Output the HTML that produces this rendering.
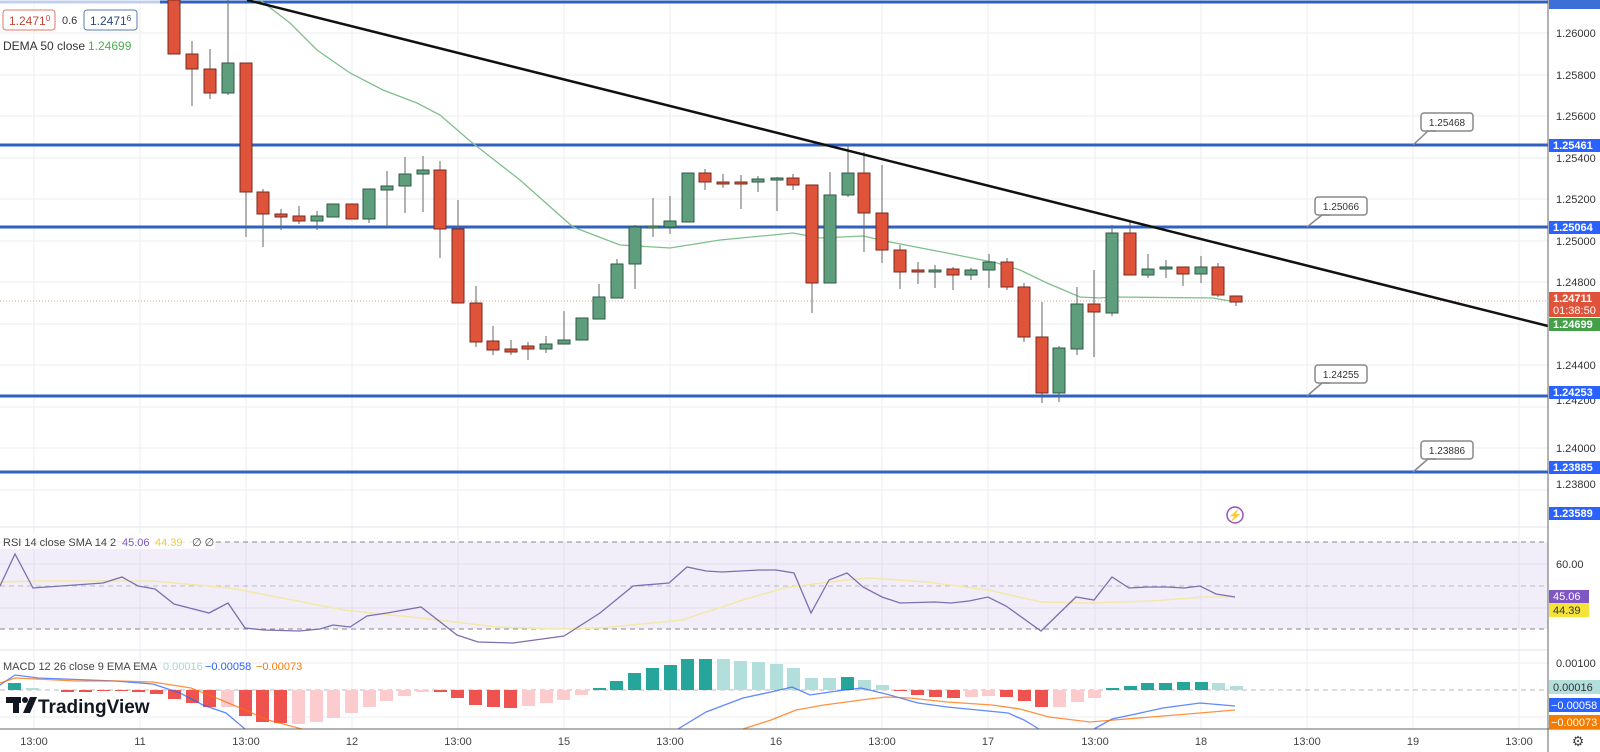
<!DOCTYPE html>
<html><head><meta charset="utf-8"><style>
html,body{margin:0;padding:0;background:#fff;}
svg{display:block;font-family:"Liberation Sans",sans-serif;}
</style></head><body>
<svg width="1600" height="752" viewBox="0 0 1600 752" xmlns="http://www.w3.org/2000/svg">
<rect width="1600" height="752" fill="#fff"/>
<!-- grid -->
<g stroke="#eceef2" stroke-width="1">
<line x1="34" y1="0" x2="34" y2="729"/><line x1="140" y1="0" x2="140" y2="729"/><line x1="246" y1="0" x2="246" y2="729"/><line x1="352" y1="0" x2="352" y2="729"/><line x1="458" y1="0" x2="458" y2="729"/><line x1="564" y1="0" x2="564" y2="729"/><line x1="670" y1="0" x2="670" y2="729"/><line x1="776" y1="0" x2="776" y2="729"/><line x1="882" y1="0" x2="882" y2="729"/><line x1="988" y1="0" x2="988" y2="729"/><line x1="1095" y1="0" x2="1095" y2="729"/><line x1="1201" y1="0" x2="1201" y2="729"/><line x1="1307" y1="0" x2="1307" y2="729"/><line x1="1413" y1="0" x2="1413" y2="729"/><line x1="1519" y1="0" x2="1519" y2="729"/>
<line x1="0" y1="33" x2="1548" y2="33"/><line x1="0" y1="75" x2="1548" y2="75"/><line x1="0" y1="116" x2="1548" y2="116"/><line x1="0" y1="158" x2="1548" y2="158"/><line x1="0" y1="199" x2="1548" y2="199"/><line x1="0" y1="241" x2="1548" y2="241"/><line x1="0" y1="282" x2="1548" y2="282"/><line x1="0" y1="324" x2="1548" y2="324"/><line x1="0" y1="365" x2="1548" y2="365"/><line x1="0" y1="407" x2="1548" y2="407"/><line x1="0" y1="448" x2="1548" y2="448"/><line x1="0" y1="490" x2="1548" y2="490"/>
<line x1="0" y1="564" x2="1548" y2="564"/><line x1="0" y1="608" x2="1548" y2="608"/><line x1="0" y1="663" x2="1548" y2="663"/><line x1="0" y1="717" x2="1548" y2="717"/>
</g>
<line x1="0" y1="527" x2="1548" y2="527" stroke="#e0e3eb"/>
<line x1="0" y1="650" x2="1548" y2="650" stroke="#e0e3eb"/>
<!-- RSI panel -->
<rect x="0" y="542" width="1548" height="87" fill="#7e57c2" fill-opacity="0.1"/>
<g stroke="#888" stroke-dasharray="5,4" stroke-width="1">
<line x1="0" y1="542" x2="1548" y2="542"/><line x1="0" y1="586" x2="1548" y2="586" stroke-opacity="0.5"/><line x1="0" y1="629" x2="1548" y2="629"/>
<line x1="0" y1="690" x2="1548" y2="690" stroke-opacity="0.6"/>
</g>
<polyline fill="none" stroke="#f2e8a8" stroke-width="1.5" points="0,582 38,581 153,581 230,588 344,610 421,618 497,627 555,629 600,628 682,620 743,600 784,588 837,581 869,578 927,582 988,590 1041,602 1090,603 1151,601 1204,597 1235,597"/>
<polyline fill="none" stroke="#7b6fb0" stroke-width="1.3" points="0,586 15,554 33,588 103,583 122,577 138,586 155,589 174,604 209,613 228,603 245,628 264,630 299,631 320,629 333,625 350,627 367,616 387,613 421,607 457,635 478,642 513,643 564,636 600,613 633,586 669,583 687,567 706,571 722,572 759,570 776,570 794,573 811,613 829,580 847,573 863,587 882,597 900,603 935,602 951,603 969,601 988,597 1006,606 1041,631 1076,597 1094,600 1112,577 1129,588 1147,587 1167,587 1184,588 1200,586 1216,594 1235,597"/>
<!-- MACD histogram -->
<g>
<rect x="8" y="683" width="13" height="7" fill="#26a69a"/>
<rect x="26" y="688" width="13" height="2" fill="#b2dfdb"/>
<rect x="61" y="690" width="13" height="2" fill="#ef5350"/><rect x="79" y="690" width="13" height="2" fill="#ef5350"/><rect x="97" y="690" width="13" height="1" fill="#ef5350"/><rect x="115" y="690" width="13" height="1" fill="#ef5350"/><rect x="132" y="690" width="13" height="2" fill="#ef5350"/><rect x="150" y="690" width="13" height="4" fill="#ef5350"/>
<rect x="168" y="690" width="13" height="9" fill="#ef5350"/><rect x="186" y="690" width="13" height="13" fill="#ef5350"/><rect x="203" y="690" width="13" height="17" fill="#ef5350"/><rect x="221" y="690" width="13" height="17" fill="#fccbcd"/>
<rect x="239" y="690" width="13" height="26" fill="#ef5350"/><rect x="256" y="690" width="13" height="32" fill="#ef5350"/><rect x="274" y="690" width="13" height="33" fill="#ef5350"/>
<rect x="292" y="690" width="13" height="34" fill="#fccbcd"/><rect x="310" y="690" width="13" height="32" fill="#fccbcd"/><rect x="327" y="690" width="13" height="28" fill="#fccbcd"/><rect x="345" y="690" width="13" height="23" fill="#fccbcd"/><rect x="363" y="690" width="13" height="17" fill="#fccbcd"/><rect x="380" y="690" width="13" height="11" fill="#fccbcd"/><rect x="398" y="690" width="13" height="6" fill="#fccbcd"/><rect x="416" y="690" width="13" height="2" fill="#fccbcd"/>
<rect x="434" y="690" width="13" height="2" fill="#ef5350"/><rect x="451" y="690" width="13" height="8" fill="#ef5350"/><rect x="469" y="690" width="13" height="15" fill="#ef5350"/><rect x="487" y="690" width="13" height="17" fill="#ef5350"/><rect x="504" y="690" width="13" height="18" fill="#ef5350"/>
<rect x="522" y="690" width="13" height="16" fill="#fccbcd"/><rect x="540" y="690" width="13" height="13" fill="#fccbcd"/><rect x="557" y="690" width="13" height="10" fill="#fccbcd"/><rect x="575" y="690" width="13" height="5" fill="#fccbcd"/>
<rect x="593" y="688" width="13" height="2" fill="#26a69a"/><rect x="610" y="681" width="13" height="9" fill="#26a69a"/><rect x="628" y="673" width="13" height="17" fill="#26a69a"/><rect x="646" y="668" width="13" height="22" fill="#26a69a"/><rect x="664" y="665" width="13" height="25" fill="#26a69a"/><rect x="681" y="659" width="13" height="31" fill="#26a69a"/><rect x="699" y="659" width="13" height="31" fill="#26a69a"/>
<rect x="717" y="659" width="13" height="31" fill="#b2dfdb"/><rect x="734" y="661" width="13" height="29" fill="#b2dfdb"/><rect x="752" y="662" width="13" height="28" fill="#b2dfdb"/><rect x="770" y="664" width="13" height="26" fill="#b2dfdb"/><rect x="787" y="668" width="13" height="22" fill="#b2dfdb"/><rect x="805" y="678" width="13" height="12" fill="#b2dfdb"/><rect x="823" y="678" width="13" height="12" fill="#b2dfdb"/>
<rect x="841" y="677" width="13" height="13" fill="#26a69a"/><rect x="858" y="680" width="13" height="10" fill="#b2dfdb"/><rect x="876" y="685" width="13" height="5" fill="#b2dfdb"/>
<rect x="894" y="690" width="13" height="1" fill="#ef5350"/><rect x="911" y="690" width="13" height="5" fill="#ef5350"/><rect x="929" y="690" width="13" height="7" fill="#ef5350"/><rect x="947" y="690" width="13" height="8" fill="#ef5350"/>
<rect x="965" y="690" width="13" height="7" fill="#fccbcd"/><rect x="982" y="690" width="13" height="6" fill="#fccbcd"/>
<rect x="1000" y="690" width="13" height="7" fill="#ef5350"/><rect x="1018" y="690" width="13" height="11" fill="#ef5350"/><rect x="1035" y="690" width="13" height="17" fill="#ef5350"/>
<rect x="1053" y="690" width="13" height="17" fill="#fccbcd"/><rect x="1071" y="690" width="13" height="12" fill="#fccbcd"/><rect x="1088" y="690" width="13" height="8" fill="#fccbcd"/>
<rect x="1106" y="688" width="13" height="2" fill="#26a69a"/><rect x="1124" y="686" width="13" height="4" fill="#26a69a"/><rect x="1141" y="683" width="13" height="7" fill="#26a69a"/><rect x="1159" y="683" width="13" height="7" fill="#26a69a"/><rect x="1177" y="682" width="13" height="8" fill="#26a69a"/><rect x="1195" y="682" width="13" height="8" fill="#26a69a"/>
<rect x="1212" y="683" width="13" height="7" fill="#b2dfdb"/><rect x="1230" y="686" width="13" height="4" fill="#b2dfdb"/>
</g>
<g fill="none" stroke-width="1.3">
<polyline stroke="#2962ff" stroke-opacity="0.75" points="0,685 15,675 38,678 115,681 153,684 180,693 203,705 226,713 245,729"/>
<polyline stroke="#ff6d00" stroke-opacity="0.75" points="0,683 15,678 77,681 119,681 153,682 191,688 214,697 245,710 268,720 302,729"/>
<polyline stroke="#2962ff" stroke-opacity="0.75" points="678,729 706,712 743,698 771,692 792,687 810,695 837,691 861,688 886,694 918,703 947,707 988,711 1008,713 1024,720 1039,729"/>
<polyline stroke="#2962ff" stroke-opacity="0.75" points="1094,729 1112,719 1131,715 1163,708 1200,703 1235,706"/>
<polyline stroke="#ff6d00" stroke-opacity="0.75" points="743,729 771,720 796,710 824,705 861,700 886,697 910,698 947,702 992,705 1020,709 1049,717 1090,722 1114,720 1151,717 1200,713 1235,710"/>
</g>
<!-- horizontal levels -->
<g stroke="#3060c0" stroke-width="3">
<line x1="0" y1="2" x2="1548" y2="2"/>
<line x1="0" y1="145" x2="1548" y2="145"/>
<line x1="0" y1="227" x2="1548" y2="227"/>
<line x1="0" y1="396" x2="1548" y2="396"/>
<line x1="0" y1="472" x2="1548" y2="472"/>
</g>
<line x1="0" y1="301" x2="1548" y2="301" stroke="#e0a080" stroke-dasharray="1,2" stroke-width="1"/>
<!-- DEMA -->
<polyline fill="none" stroke="#7fbf8c" stroke-width="1.3" points="260,0 290,23 317,50 350,73 383,90 417,103 440,115 470,141 520,180 573,227 620,245 670,248 720,240 793,233 820,238 863,236 890,242 947,253 997,263 1020,270 1047,283 1080,297 1100,298 1113,297 1213,298 1236,302"/>
<!-- candles -->
<g stroke="#666" stroke-width="1">
<line x1="192" y1="41" x2="192" y2="106"/><line x1="210" y1="49" x2="210" y2="99"/><line x1="228" y1="0" x2="228" y2="95"/><line x1="246" y1="63" x2="246" y2="237"/><line x1="263" y1="189" x2="263" y2="247"/><line x1="281" y1="209" x2="281" y2="230"/><line x1="299" y1="206" x2="299" y2="224"/><line x1="317" y1="211" x2="317" y2="230"/><line x1="369" y1="189" x2="369" y2="223"/><line x1="387" y1="171" x2="387" y2="227"/><line x1="405" y1="157" x2="405" y2="213"/><line x1="423" y1="156" x2="423" y2="212"/><line x1="440" y1="161" x2="440" y2="258"/><line x1="458" y1="200" x2="458" y2="303"/><line x1="476" y1="286" x2="476" y2="347"/><line x1="493" y1="326" x2="493" y2="355"/><line x1="511" y1="340" x2="511" y2="355"/><line x1="528" y1="342" x2="528" y2="360"/><line x1="546" y1="336" x2="546" y2="353"/><line x1="564" y1="311" x2="564" y2="344"/><line x1="599" y1="284" x2="599" y2="319"/><line x1="617" y1="259" x2="617" y2="298"/><line x1="635" y1="225" x2="635" y2="289"/><line x1="653" y1="198" x2="653" y2="237"/><line x1="670" y1="196" x2="670" y2="234"/><line x1="705" y1="169" x2="705" y2="190"/><line x1="723" y1="174" x2="723" y2="188"/><line x1="741" y1="175" x2="741" y2="209"/><line x1="758" y1="176" x2="758" y2="192"/><line x1="777" y1="177" x2="777" y2="211"/><line x1="793" y1="174" x2="793" y2="190"/><line x1="812" y1="185" x2="812" y2="313"/><line x1="830" y1="172" x2="830" y2="283"/><line x1="848" y1="145" x2="848" y2="197"/><line x1="864" y1="152" x2="864" y2="252"/><line x1="882" y1="165" x2="882" y2="263"/><line x1="900" y1="245" x2="900" y2="289"/><line x1="918" y1="262" x2="918" y2="284"/><line x1="935" y1="265" x2="935" y2="288"/><line x1="953" y1="267" x2="953" y2="290"/><line x1="971" y1="268" x2="971" y2="280"/><line x1="989" y1="254" x2="989" y2="288"/><line x1="1007" y1="258" x2="1007" y2="290"/><line x1="1024" y1="283" x2="1024" y2="342"/><line x1="1042" y1="302" x2="1042" y2="403"/><line x1="1059" y1="346" x2="1059" y2="402"/><line x1="1077" y1="287" x2="1077" y2="355"/><line x1="1094" y1="270" x2="1094" y2="357"/><line x1="1112" y1="225" x2="1112" y2="316"/><line x1="1130" y1="222" x2="1130" y2="275"/><line x1="1148" y1="254" x2="1148" y2="278"/><line x1="1166" y1="260" x2="1166" y2="278"/><line x1="1183" y1="267" x2="1183" y2="286"/><line x1="1201" y1="256" x2="1201" y2="283"/><line x1="1218" y1="263" x2="1218" y2="297"/><line x1="1236" y1="296" x2="1236" y2="306"/>
</g>
<g fill="#e0533b" stroke="#7a2a1c" stroke-width="1">
<rect x="168" y="0" width="12" height="54"/><rect x="186" y="54" width="12" height="15"/><rect x="204" y="69" width="12" height="24"/><rect x="240" y="63" width="12" height="129"/><rect x="257" y="192" width="12" height="22"/><rect x="275" y="214" width="12" height="3"/><rect x="293" y="216" width="12" height="5"/><rect x="346" y="204" width="12" height="15"/><rect x="434" y="170" width="12" height="59"/><rect x="452" y="229" width="12" height="74"/><rect x="470" y="303" width="12" height="39"/><rect x="487" y="341" width="12" height="9"/><rect x="505" y="349" width="12" height="3"/><rect x="522" y="346" width="12" height="3"/><rect x="699" y="173" width="12" height="9"/><rect x="717" y="182" width="12" height="2"/><rect x="735" y="182" width="12" height="2"/><rect x="787" y="178" width="12" height="7"/><rect x="806" y="185" width="12" height="98"/><rect x="858" y="173" width="12" height="40"/><rect x="876" y="213" width="12" height="37"/><rect x="894" y="250" width="12" height="22"/><rect x="912" y="270" width="12" height="2"/><rect x="947" y="269" width="12" height="6"/><rect x="1001" y="262" width="12" height="25"/><rect x="1018" y="287" width="12" height="50"/><rect x="1036" y="337" width="12" height="56"/><rect x="1088" y="304" width="12" height="8"/><rect x="1124" y="233" width="12" height="42"/><rect x="1177" y="267" width="12" height="7"/><rect x="1212" y="267" width="12" height="28"/><rect x="1230" y="296" width="12" height="6"/>
</g>
<g fill="#5f9e7d" stroke="#2d5a44" stroke-width="1">
<rect x="222" y="63" width="12" height="30"/><rect x="311" y="216" width="12" height="5"/><rect x="327" y="204" width="12" height="13"/><rect x="363" y="189" width="12" height="30"/><rect x="381" y="186" width="12" height="4"/><rect x="399" y="174" width="12" height="12"/><rect x="417" y="170" width="12" height="4"/><rect x="540" y="344" width="12" height="5"/><rect x="558" y="340" width="12" height="4"/><rect x="576" y="318" width="12" height="22"/><rect x="593" y="297" width="12" height="22"/><rect x="611" y="264" width="12" height="34"/><rect x="629" y="227" width="12" height="37"/><rect x="647" y="226" width="12" height="2"/><rect x="664" y="221" width="12" height="6"/><rect x="682" y="173" width="12" height="49"/><rect x="752" y="179" width="12" height="3"/><rect x="771" y="178" width="12" height="2"/><rect x="824" y="195" width="12" height="88"/><rect x="842" y="173" width="12" height="22"/><rect x="929" y="270" width="12" height="2"/><rect x="965" y="270" width="12" height="5"/><rect x="983" y="262" width="12" height="8"/><rect x="1053" y="348" width="12" height="45"/><rect x="1071" y="304" width="12" height="45"/><rect x="1106" y="233" width="12" height="80"/><rect x="1142" y="269" width="12" height="6"/><rect x="1160" y="267" width="12" height="2"/><rect x="1195" y="267" width="12" height="7"/>
</g>
<!-- trendline -->
<line x1="247" y1="0" x2="1548" y2="326" stroke="#111" stroke-width="2.5"/>
<!-- level callouts -->
<g fill="#fff" stroke="#888" stroke-width="1.5">
<rect x="1421" y="113" width="52" height="18" rx="3"/><path d="M1413,145 L1428,131 L1436,131" fill="none"/>
<rect x="1315" y="197" width="52" height="18" rx="3"/><path d="M1307,227 L1322,215 L1330,215" fill="none"/>
<rect x="1315" y="365" width="52" height="18" rx="3"/><path d="M1307,396 L1322,383 L1330,383" fill="none"/>
<rect x="1421" y="441" width="52" height="18" rx="3"/><path d="M1413,472 L1428,459 L1436,459" fill="none"/>
</g>
<g font-size="10" fill="#333" text-anchor="middle">
<text x="1447" y="126">1.25468</text><text x="1341" y="210">1.25066</text><text x="1341" y="378">1.24255</text><text x="1447" y="454">1.23886</text>
</g>
<circle cx="1235" cy="515" r="8" fill="#fff" stroke="#9c4fbf" stroke-width="1.5"/>
<text x="1235" y="519" font-size="11" fill="#9c4fbf" text-anchor="middle">⚡</text>
<!-- legend -->
<rect x="0" y="0" width="160" height="7" fill="#fff" opacity="0.7"/>
<rect x="3" y="10" width="52" height="20" rx="3" fill="#fff" stroke="#e07a6a"/>
<text x="9" y="25" font-size="12" fill="#c0473a">1.2471<tspan font-size="8" dy="-4">0</tspan></text>
<text x="62" y="24" font-size="11" fill="#333">0.6</text>
<rect x="84" y="10" width="53" height="20" rx="3" fill="#fff" stroke="#5a7bb0"/>
<text x="90" y="25" font-size="12" fill="#2c4a7a">1.2471<tspan font-size="8" dy="-4">6</tspan></text>
<text x="3" y="50" font-size="12" fill="#333">DEMA 50 close</text>
<text x="88" y="50" font-size="12" fill="#4caf50">1.24699</text>
<rect x="0" y="534" width="215" height="15" fill="#fff" opacity="0.8"/>
<text x="3" y="546" font-size="11" fill="#444">RSI 14 close SMA 14 2</text>
<text x="122" y="546" font-size="11" fill="#7e57c2">45.06</text>
<text x="155" y="546" font-size="11" fill="#f2d03a">44.39</text>
<text x="192" y="546" font-size="11" fill="#444">∅ ∅</text>
<text x="3" y="670" font-size="11" fill="#444">MACD 12 26 close 9 EMA EMA</text>
<text x="163" y="670" font-size="11" fill="#a8d8d2">0.00016</text>
<text x="205" y="670" font-size="11" fill="#2962ff">−0.00058</text>
<text x="256" y="670" font-size="11" fill="#f57c00">−0.00073</text>
<!-- TradingView logo -->
<g fill="#131722">
<rect x="6" y="697" width="15" height="6"/><rect x="13" y="697" width="6" height="16"/>
<circle cx="25" cy="700" r="3"/><path d="M30,697 L37,697 L30,713 L23,713 Z"/>
<text x="38" y="713" font-size="19" font-weight="bold">TradingView</text>
</g>
<!-- axes -->
<line x1="1548" y1="0" x2="1548" y2="752" stroke="#666" stroke-width="1"/>
<line x1="0" y1="729" x2="1600" y2="729" stroke="#666" stroke-width="1"/>
<g font-size="11" fill="#333">
<text x="1556" y="37">1.26000</text><text x="1556" y="79">1.25800</text><text x="1556" y="120">1.25600</text><text x="1556" y="162">1.25400</text><text x="1556" y="203">1.25200</text><text x="1556" y="245">1.25000</text><text x="1556" y="286">1.24800</text><text x="1556" y="369">1.24400</text><text x="1556" y="404">1.24200</text><text x="1556" y="452">1.24000</text><text x="1556" y="488">1.23800</text>
<text x="1556" y="568">60.00</text><text x="1556" y="667">0.00100</text>
</g>
<g font-size="11" font-weight="bold" fill="#fff">
<rect x="1549" y="0" width="51" height="9" fill="#3d6fd6"/>
<rect x="1549" y="139" width="51" height="13" fill="#2962ff"/><text x="1553" y="149">1.25461</text>
<rect x="1549" y="221" width="51" height="13" fill="#2962ff"/><text x="1553" y="231">1.25064</text>
<rect x="1549" y="292" width="51" height="25" fill="#e0533b"/><text x="1553" y="302">1.24711</text><text x="1553" y="314" font-weight="normal">01:38:50</text>
<rect x="1549" y="318" width="51" height="13" fill="#43a047"/><text x="1553" y="328">1.24699</text>
<rect x="1549" y="386" width="51" height="13" fill="#2962ff"/><text x="1553" y="396">1.24253</text>
<rect x="1549" y="461" width="51" height="13" fill="#2962ff"/><text x="1553" y="471">1.23885</text>
<rect x="1549" y="507" width="51" height="13" fill="#2962ff"/><text x="1553" y="517">1.23589</text>
<rect x="1549" y="590" width="40" height="13" fill="#7e57c2"/><text x="1553" y="600" font-weight="normal">45.06</text>
<rect x="1549" y="603" width="40" height="14" fill="#f5e33a"/><text x="1553" y="614" font-weight="normal" fill="#333">44.39</text>
<rect x="1549" y="680" width="51" height="14" fill="#b2dfdb"/><text x="1553" y="691" font-weight="normal" fill="#333">0.00016</text>
<rect x="1549" y="698" width="51" height="14" fill="#2962ff"/><text x="1551" y="709" font-weight="normal">−0.00058</text>
<rect x="1549" y="715" width="51" height="14" fill="#f57c00"/><text x="1551" y="726" font-weight="normal">−0.00073</text>
</g>
<g font-size="11" fill="#444" text-anchor="middle">
<text x="34" y="745">13:00</text><text x="140" y="745">11</text><text x="246" y="745">13:00</text><text x="352" y="745">12</text><text x="458" y="745">13:00</text><text x="564" y="745">15</text><text x="670" y="745">13:00</text><text x="776" y="745">16</text><text x="882" y="745">13:00</text><text x="988" y="745">17</text><text x="1095" y="745">13:00</text><text x="1201" y="745">18</text><text x="1307" y="745">13:00</text><text x="1413" y="745">19</text><text x="1519" y="745">13:00</text>
</g>
<text x="1578" y="746" font-size="14" fill="#444" text-anchor="middle">⚙</text>
</svg>
</body></html>
